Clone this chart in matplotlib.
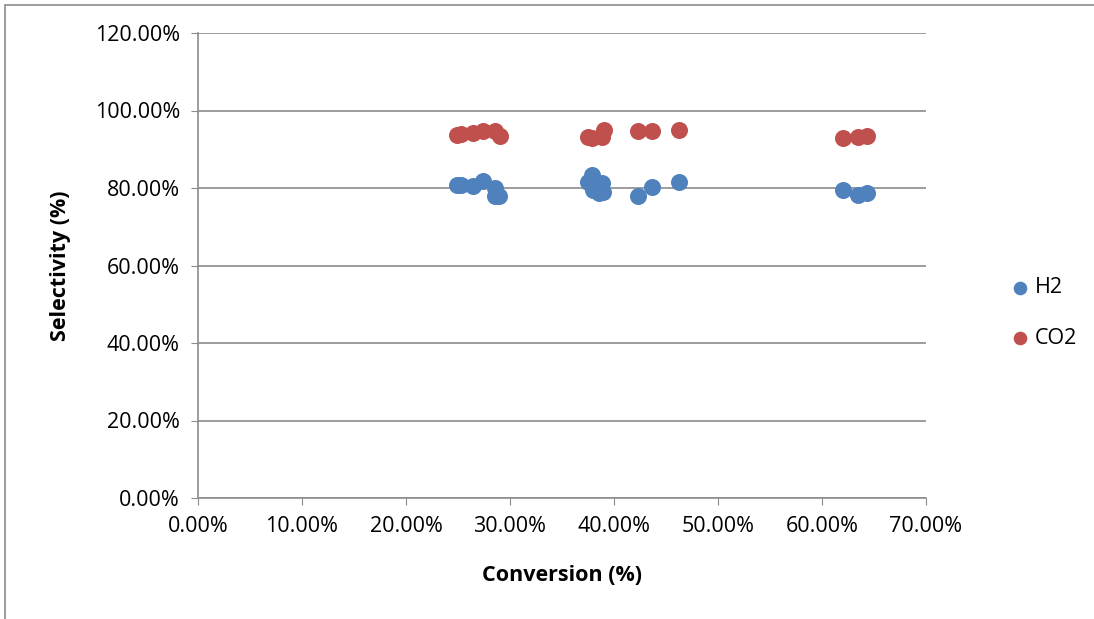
import matplotlib
matplotlib.use("Agg")
import matplotlib.pyplot as plt
from matplotlib.ticker import FuncFormatter, MultipleLocator
from matplotlib.patches import Rectangle

plt.rcParams['font.family'] = ['Open Sans', 'DejaVu Sans']

h2_x = [24.9, 25.3, 26.4, 27.4, 28.6, 28.6, 28.9,
        37.5, 37.9, 38.0, 38.8, 38.9, 38.6, 42.3, 43.7, 46.25,
        62.0, 63.5, 64.3]
h2_y = [80.8, 80.8, 80.5, 81.8, 80.0, 77.9, 77.9,
        81.5, 83.4, 79.5, 81.3, 78.9, 78.6, 77.9, 80.3, 81.5,
        79.5, 78.1, 78.6]

co2_x = [24.9, 25.3, 26.4, 27.4, 28.6, 29.0,
         37.5, 37.9, 38.8, 39.0, 42.3, 43.7, 46.25,
         62.0, 63.5, 64.3]
co2_y = [93.7, 93.9, 94.2, 94.6, 94.6, 93.4,
         93.2, 92.9, 93.2, 95.0, 94.8, 94.6, 95.0,
         92.9, 93.2, 93.5]

blue = '#4F81BD'
red = '#C0504D'
fs = 15.5

fig = plt.figure(figsize=(10.94, 6.19), dpi=100)
ax = fig.add_axes([198/1094, 1-498/619, (926-198)/1094, (498-33)/619])

ax.scatter(h2_x, h2_y, s=150, color=blue, label='H2', zorder=3, linewidths=0)
ax.scatter(co2_x, co2_y, s=150, color=red, label='CO2', zorder=3, linewidths=0)

ax.set_xlim(0, 70)
ax.set_ylim(0, 120)
ax.xaxis.set_major_locator(MultipleLocator(10))
ax.yaxis.set_major_locator(MultipleLocator(20))
ax.xaxis.set_major_formatter(FuncFormatter(lambda v, p: f"{v:.2f}%"))
ax.yaxis.set_major_formatter(FuncFormatter(lambda v, p: f"{v:.2f}%"))
ax.grid(axis='y', color='#8C8C8C', linewidth=1.2)
ax.set_axisbelow(True)
for s in ['top', 'right']:
    ax.spines[s].set_visible(False)
for s in ['left', 'bottom']:
    ax.spines[s].set_color('#8C8C8C')
    ax.spines[s].set_linewidth(1.2)
ax.tick_params(axis='both', direction='out', length=5, color='#8C8C8C',
               labelsize=fs, labelcolor='black', pad=8)
ax.set_xlabel('Conversion (%)', fontsize=fs, fontweight='bold', labelpad=20)
ax.set_ylabel('Selectivity (%)', fontsize=fs, fontweight='bold', labelpad=17)

fig.legend(handles=ax.collections, labels=['H2', 'CO2'],
           loc='center left', bbox_to_anchor=(990/1094, 1-313/619),
           frameon=False, fontsize=fs, handletextpad=0.2, handlelength=1.0,
           labelspacing=1.35, markerscale=0.8, scatterpoints=1)

fig.patches.append(Rectangle((5/1094, -0.1), 1.2, 1 - 5/619 + 0.1,
                             transform=fig.transFigure, fill=False,
                             edgecolor='#8C8C8C', linewidth=1.2))

fig.savefig('out.png', dpi=100)
